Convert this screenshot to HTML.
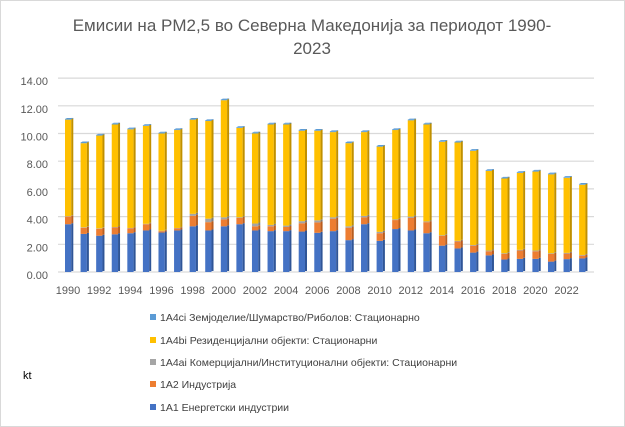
<!DOCTYPE html>
<html><head><meta charset="utf-8"><style>
body{margin:0;background:#fff}
svg{display:block;font-family:"Liberation Sans","DejaVu Sans",sans-serif}
</style></head><body>
<svg id="c" width="625" height="427" xmlns="http://www.w3.org/2000/svg">
<rect x="0.5" y="0.5" width="624" height="426" fill="#fff" stroke="#d9d9d9"/>
<text x="312" y="31" font-size="17" text-anchor="middle" fill="#595959">Емисии на PM2,5 во Северна Македонија за периодот 1990-</text>
<text x="312" y="54" font-size="17" text-anchor="middle" fill="#595959">2023</text>
<g id="g"></g>
<text x="23" y="379" font-size="11" fill="#000">kt</text>
<g font-size="10.5" fill="#404040">
<rect x="150" y="314" width="6" height="6" fill="#5b9bd5"/><text x="160" y="321">1A4ci Земјоделие/Шумарство/Риболов: Стационарно</text>
<rect x="150" y="337" width="6" height="6" fill="#ffc000"/><text x="160" y="344">1A4bi Резиденцијални објекти: Стационарни</text>
<rect x="150" y="359" width="6" height="6" fill="#a5a5a5"/><text x="160" y="366">1A4ai Комерцијални/Институционални објекти: Стационарни</text>
<rect x="150" y="381" width="6" height="6" fill="#ed7d31"/><text x="160" y="388">1A2 Индустрија</text>
<rect x="150" y="404" width="6" height="6" fill="#4472c4"/><text x="160" y="411">1A1 Енергетски индустрии</text>
</g>
</svg>
<script>
var tot=[11.05,9.35,9.9,10.7,10.35,10.6,10.05,10.3,11.05,10.95,12.45,10.45,10.05,10.7,10.7,10.25,10.25,10.15,9.35,10.15,9.1,10.3,11.0,10.7,9.45,9.4,8.8,7.35,6.8,7.2,7.3,7.1,6.85,6.35];
var b=[3.45,2.75,2.62,2.72,2.8,3.0,2.85,3.0,3.3,3.0,3.3,3.45,3.0,2.95,2.95,2.92,2.83,2.95,2.3,3.45,2.25,3.1,3.0,2.8,1.9,1.7,1.4,1.2,0.9,0.95,0.95,0.75,0.93,0.98];
var o=[0.55,0.45,0.5,0.5,0.35,0.45,0.1,0.15,0.75,0.6,0.5,0.45,0.3,0.35,0.3,0.6,0.75,0.9,0.9,0.5,0.55,0.65,0.9,0.8,0.7,0.5,0.5,0.3,0.4,0.6,0.55,0.55,0.4,0.2];
var gr=[0.03,0.03,0.03,0.03,0.03,0.03,0.03,0.03,0.15,0.25,0.15,0.05,0.2,0.1,0.1,0.15,0.15,0.1,0.1,0.1,0.1,0.05,0.1,0.05,0.05,0.05,0.05,0.05,0.05,0.05,0.05,0.05,0.05,0.05];
var y0=272,k=13.85,s='';
for(var v=0;v<=14;v+=2){var y=y0-v*k;
s+='<line x1="58" x2="594" y1="'+y+'" y2="'+y+'" stroke="#d9d9d9" stroke-width="1.2"/>';
s+='<text x="48" y="'+(y+7)+'" font-size="11" text-anchor="end" fill="#595959">'+v.toFixed(2)+'</text>';}
var cols=[['#4472c4','#2f5597'],['#ed7d31','#b85d1f'],['#a5a5a5','#7b7b7b'],['#ffc000','#c09000'],['#5b9bd5','#41719c']];
for(var i=0;i<34;i++){var x=65+i*15.58;
var yel=tot[i]-b[i]-o[i]-gr[i]-0.05;
var seg=[b[i],o[i],gr[i],yel,0.05];var cy=y0;
for(var j=0;j<5;j++){var h=seg[j]*k;cy-=h;
s+='<rect x="'+x+'" y="'+cy+'" width="6.3" height="'+h+'" fill="'+cols[j][0]+'"/>';
s+='<rect x="'+(x+6.3)+'" y="'+(cy-1)+'" width="2" height="'+h+'" fill="'+cols[j][1]+'"/>';}
s+='<polygon points="'+x+','+cy+' '+(x+6.3)+','+cy+' '+(x+8.3)+','+(cy-1)+' '+(x+2)+','+(cy-1)+'" fill="#5b9bd5"/>';
if(i%2==0)s+='<text x="'+(x+3)+'" y="294" font-size="11" text-anchor="middle" fill="#595959">'+(1990+i)+'</text>';}
document.getElementById('g').innerHTML=s;
</script>
</body></html>
